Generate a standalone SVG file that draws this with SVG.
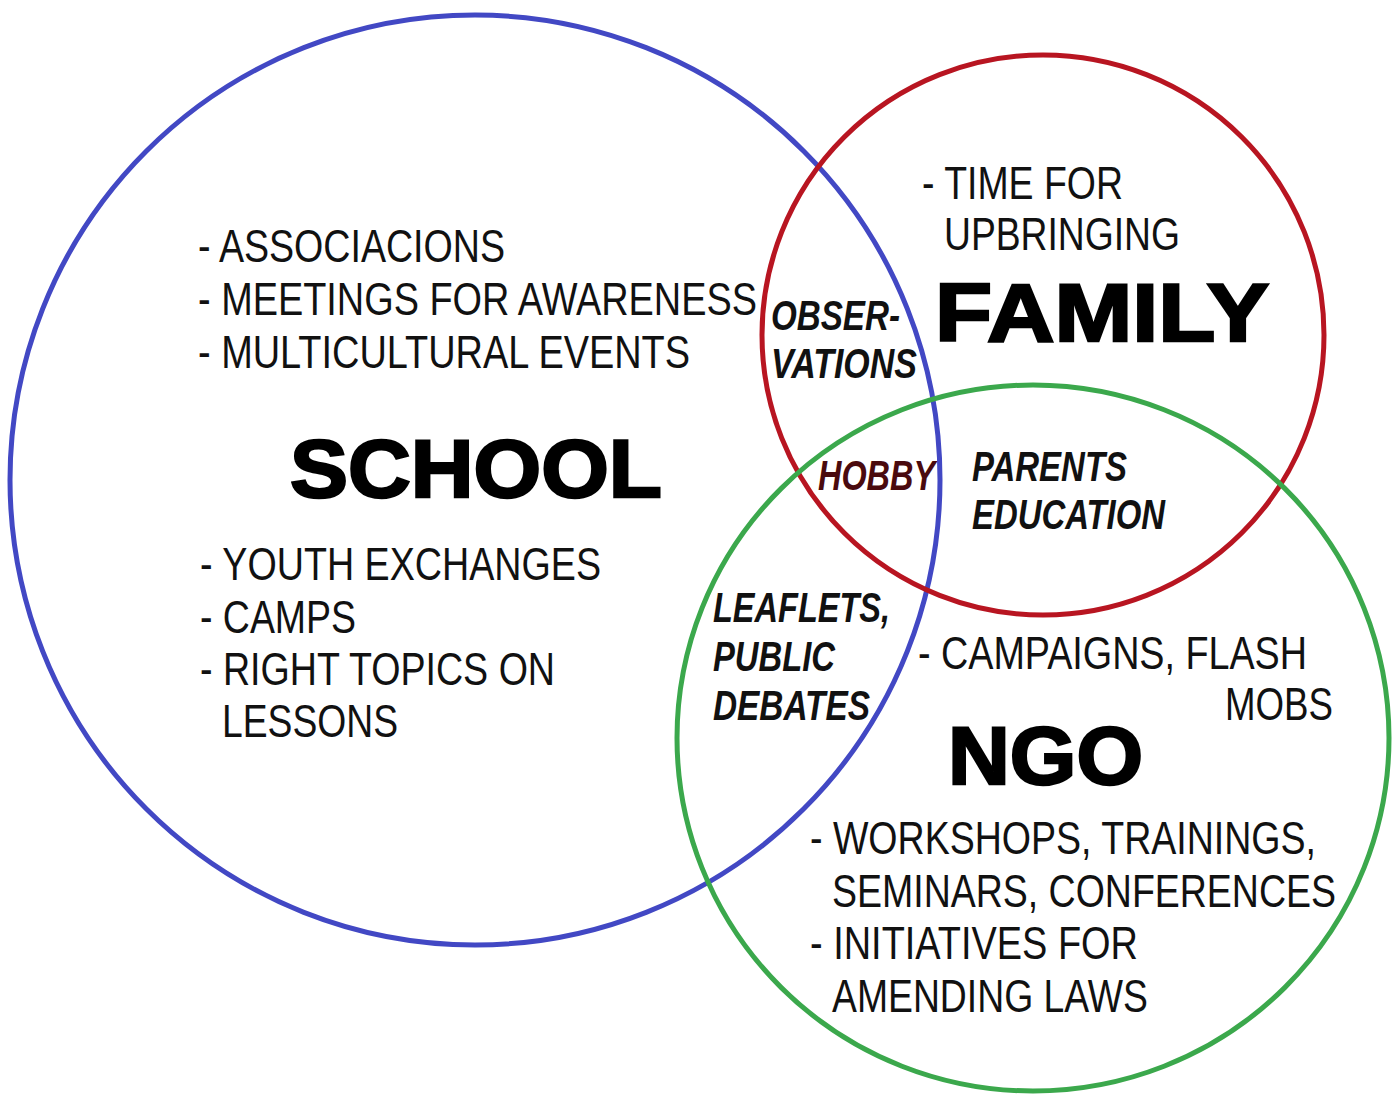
<svg xmlns="http://www.w3.org/2000/svg" width="1399" height="1096" viewBox="0 0 1399 1096">
<style>
.c{fill:none;stroke-width:5}
.t{font-family:"Liberation Sans",Arial,sans-serif;font-size:47px;fill:#111}
.b{font-family:"Liberation Sans",Arial,sans-serif;font-size:42px;font-weight:bold;font-style:italic;fill:#111}
.h{font-family:"Liberation Sans",Arial,sans-serif;font-size:81px;font-weight:bold;fill:#000;stroke:#000;stroke-width:2.5}
</style>
<rect width="1399" height="1096" fill="#fff"/>
<g id="connectors">
<ellipse id="school-circle" class="c" cx="475" cy="480" rx="465" ry="465" stroke="#4248c4"/>
<ellipse id="family-circle" class="c" cx="1043" cy="335" rx="281" ry="280" stroke="#b81521"/>
<ellipse id="ngo-circle" class="c" cx="1033" cy="738" rx="356" ry="353" stroke="#3ba84c"/>
</g>
<g id="school">
<text class="t" x="198" y="262" textLength="307" lengthAdjust="spacingAndGlyphs">- ASSOCIACIONS</text>
<text class="t" x="198" y="315" textLength="559" lengthAdjust="spacingAndGlyphs">- MEETINGS FOR AWARENESS</text>
<text class="t" x="198" y="368" textLength="492" lengthAdjust="spacingAndGlyphs">- MULTICULTURAL EVENTS</text>
<text class="h" x="290" y="497" textLength="372" lengthAdjust="spacingAndGlyphs">SCHOOL</text>
<text class="t" x="200" y="580" textLength="401" lengthAdjust="spacingAndGlyphs">- YOUTH EXCHANGES</text>
<text class="t" x="200" y="633" textLength="156" lengthAdjust="spacingAndGlyphs">- CAMPS</text>
<text class="t" x="200" y="685" textLength="355" lengthAdjust="spacingAndGlyphs">- RIGHT TOPICS ON</text>
<text class="t" x="222" y="737" textLength="176" lengthAdjust="spacingAndGlyphs">LESSONS</text>
</g>
<g id="family">
<text class="t" x="922" y="199" textLength="201" lengthAdjust="spacingAndGlyphs">- TIME FOR</text>
<text class="t" x="944" y="250" textLength="236" lengthAdjust="spacingAndGlyphs">UPBRINGING</text>
<text class="h" x="935" y="341" textLength="334" lengthAdjust="spacingAndGlyphs">FAMILY</text>
</g>
<g id="school-family">
<text class="b" x="771" y="330" textLength="129" lengthAdjust="spacingAndGlyphs">OBSER-</text>
<text class="b" x="771" y="378" textLength="146" lengthAdjust="spacingAndGlyphs">VATIONS</text>
</g>
<g id="all-three">
<text class="b" x="818" y="490" textLength="117" lengthAdjust="spacingAndGlyphs" style="fill:#4a0a0e">HOBBY</text>
</g>
<g id="family-ngo">
<text class="b" x="972" y="481" textLength="155" lengthAdjust="spacingAndGlyphs">PARENTS</text>
<text class="b" x="972" y="529" textLength="193" lengthAdjust="spacingAndGlyphs">EDUCATION</text>
</g>
<g id="school-ngo">
<text class="b" x="713" y="622" textLength="177" lengthAdjust="spacingAndGlyphs">LEAFLETS,</text>
<text class="b" x="713" y="671" textLength="122" lengthAdjust="spacingAndGlyphs">PUBLIC</text>
<text class="b" x="713" y="720" textLength="157" lengthAdjust="spacingAndGlyphs">DEBATES</text>
</g>
<g id="ngo">
<text class="t" x="918" y="669" textLength="389" lengthAdjust="spacingAndGlyphs">- CAMPAIGNS, FLASH</text>
<text class="t" x="1225" y="720" textLength="108" lengthAdjust="spacingAndGlyphs">MOBS</text>
<text class="h" x="948" y="784" textLength="195" lengthAdjust="spacingAndGlyphs">NGO</text>
<text class="t" x="810" y="854" textLength="506" lengthAdjust="spacingAndGlyphs">- WORKSHOPS, TRAININGS,</text>
<text class="t" x="832" y="907" textLength="504" lengthAdjust="spacingAndGlyphs">SEMINARS, CONFERENCES</text>
<text class="t" x="810" y="959" textLength="328" lengthAdjust="spacingAndGlyphs">- INITIATIVES FOR</text>
<text class="t" x="832" y="1012" textLength="316" lengthAdjust="spacingAndGlyphs">AMENDING LAWS</text>
</g>
</svg>
